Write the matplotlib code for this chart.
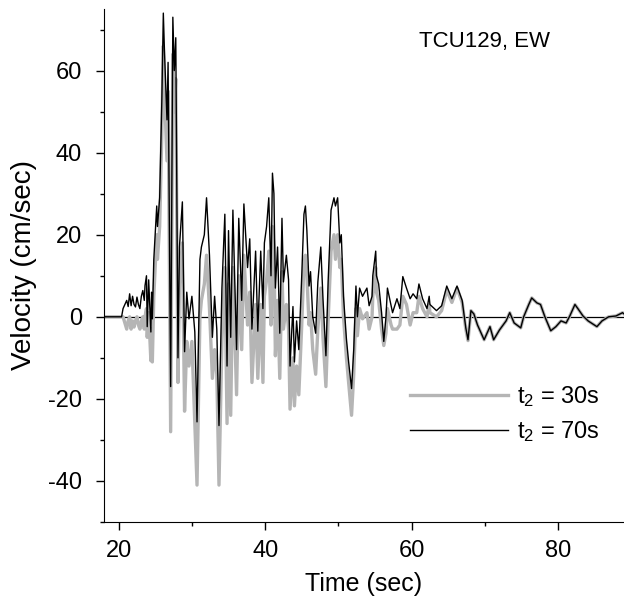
import matplotlib
matplotlib.use("Agg")
import matplotlib.pyplot as plt
from matplotlib.ticker import MultipleLocator

# time samples (sec)
t = [18.0, 20.0, 20.4, 20.6, 21.1, 21.3, 21.5, 21.7, 21.9, 22.1, 22.3, 22.5, 22.7, 22.9,
     23.1, 23.3, 23.5, 23.6, 23.8, 23.9, 24.1, 24.4, 24.5, 24.6, 24.8, 25.2, 25.3, 25.6,
     25.9, 26.1, 26.25, 26.6, 26.75, 27.1, 27.4, 27.6, 27.8, 28.1, 28.3, 28.7, 29.0, 29.3,
     29.6, 30.0, 30.4, 30.7, 31.1, 31.3, 31.7, 32.0, 32.4, 32.8, 33.1, 33.4, 33.7, 34.1,
     34.5, 34.8, 35.0, 35.3, 35.6, 36.1, 36.4, 36.8, 37.1, 37.6, 37.9, 38.2, 38.7, 39.0,
     39.4, 39.7, 39.9, 40.2, 40.5, 40.8, 41.0, 41.2, 41.4, 41.7, 42.0, 42.3, 42.5, 42.9,
     43.2, 43.4, 43.8, 44.0, 44.3, 44.6, 45.0, 45.3, 45.5, 45.7, 46.0, 46.2, 46.5, 46.9,
     47.2, 47.6, 47.9, 48.3, 48.6, 49.0, 49.4, 49.6, 49.9, 50.2, 50.4, 50.7, 51.1, 51.4,
     51.8, 52.1, 52.4, 52.6, 52.9, 53.3, 53.9, 54.2, 54.6, 54.7, 55.1, 55.2, 55.5, 55.9,
     56.2, 56.5, 56.7, 57.2, 57.4, 58.0, 58.4, 58.8, 59.3, 59.8, 60.2, 60.7, 61.0, 61.5,
     62.1, 62.4, 62.5, 63.4, 64.1, 64.8, 65.5, 66.2, 66.9, 67.4, 67.7, 68.1, 68.5, 69.0,
     69.9, 70.7, 71.2, 72.0, 72.9, 73.4, 74.0, 74.9, 75.3, 76.0, 76.4, 77.1, 77.6, 78.2,
     79.0, 79.7, 80.4, 81.1, 81.6, 82.3, 82.7, 83.4, 84.1, 85.3, 86.0, 86.9, 87.9, 88.8, 89.5]

# velocity (cm/sec), t2 = 70s
vel_70 = [0, 0, 0, 2, 4, 2.5, 5.6, 2.7, 5, 3, 2.4, 4.8, 3, 2,
          5, 6.4, 4, 7.6, 10, -2.4, 9, -3.7, 6, -0.5, 14, 27, 22, 29,
          53, 74, 65, 48, 62, -17, 73, 60, 68, -10, 17, 28, -8.5, 6,
          -0.5, 5, -3.7, -25.6, 14, 17, 20, 29, 15, -5, 5, -3, -26.5, 7,
          25, -12, 21, -5, 26, -8, 24, 4, 27.5, 12, 19, -3, 16, -3.5,
          16, 2, 18, 22, 29, 10, 35, 30, 7, 17, -4, 24, 8.5, 15,
          9, -12, 2.5, -11, -1, -8, 10, 25, 27, 21, 7.5, 11, 0, -4,
          8.5, 17, 4.4, -9.5, 8.5, 26, 29, 27, 29, 18, 20, 5, -5.4, -11,
          -17.5, -8, 7.5, 0, 7, 5, 7, 2.7, 5, 10, 16, 10, 8, 1,
          -6, 0, 7, 2.7, 1, 4.4, 2, 9.8, 7, 4.4, 5.6, 4.4, 8, 4.4,
          2, 5, 3, 1.5, 2.7, 7.5, 4.4, 7.5, 4, -2.7, -5.6, 1.5, 0.7, -2,
          -5.6, -2.4, -5.6, -3.2, -1, 1, -1.5, -2.7, 0, 3, 4.6, 3.4, 3, 0,
          -3.4, -2.4, -1, -1.5, 0.2, 3, 2, 0.2, -1, -2.4, -1, 0, 0.2, 1, 0]

# velocity (cm/sec), t2 = 30s
vel_30 = [0, 0, 0, 0, -3, -1, 0, -3, -1, -2.5, -1, 0, -2, -3,
          -1, 0, -3, 0, 2, -5, 1, -10.7, -3, -11, 5, 20, 14, 22,
          45, 66, 55, 38, 55, -28, 64, 50, 58, -16, 8, 18, -23, -6,
          -12, -6, -25.6, -41, 0, 4, 8, 15, 2, -15, -8, -14, -41, -6,
          12, -26, 8, -24, 12, -19, 10, -8, 15, -2, 6, -16, 3, -15,
          3, -16, 5, 9, 16, -2, 22, 17, -9.5, 4, -15, 11, -3, 3,
          -3, -22.5, -10, -21.7, -12, -19, -2, 13, 15, 10, -2, 1, -8, -14,
          -3, 7, -5, -17, -1, 16, 20, 14, 20, 12, 14, 0, -10, -16,
          -24, -14, 2, -4.6, 2, -0.5, 1, -3, 0, 5, 12, 6, 4, -3,
          -7, -4, 2, -2, -3, -3, -2, 5, 3, -2, 1, 1, 5, 2,
          0, 3, 1, 0, 1.5, 6.5, 3.5, 7, 3.5, -3, -5.8, 1.5, 0.7, -2,
          -5.6, -2.4, -5.6, -3.2, -1, 1, -1.5, -2.7, 0, 3, 4.6, 3.4, 3, 0,
          -3.4, -2.4, -1, -1.5, 0.2, 3, 2, 0.2, -1, -2.4, -1, 0, 0.2, 1, 0]

plt.rcParams['font.family'] = ['Liberation Sans', 'DejaVu Sans']
plt.rcParams['axes.unicode_minus'] = False

fig = plt.figure(figsize=(6.24, 6.02), dpi=100)
ax = fig.add_axes([104 / 624, 1 - 522 / 602, 520 / 624, 513 / 602])

ax.axhline(0, color='black', linewidth=0.9, zorder=1)
ax.plot(t, vel_30, color='#b5b5b5', linewidth=2.4, label=r'$\mathregular{t_2}$ = 30s', zorder=2)
ax.plot(t, vel_70, color='black', linewidth=1.0, label=r'$\mathregular{t_2}$ = 70s', zorder=3)

ax.set_xlim(18, 89)
ax.set_ylim(-50, 75)
ax.xaxis.set_major_locator(MultipleLocator(20))
ax.xaxis.set_minor_locator(MultipleLocator(10))
ax.yaxis.set_major_locator(MultipleLocator(20))
ax.yaxis.set_minor_locator(MultipleLocator(10))
ax.spines['top'].set_visible(False)
ax.spines['right'].set_visible(False)
ax.tick_params(which='major', direction='out', length=6, width=1)
ax.tick_params(which='minor', direction='out', length=3, width=1)
ax.tick_params(axis='x', which='major', pad=7, labelsize=17)
ax.tick_params(axis='y', which='major', pad=10, labelsize=17)

ax.set_xlabel("Time (sec)", fontsize=18, labelpad=7)
ax.set_ylabel("Velocity (cm/sec)", fontsize=20, labelpad=8)

ax.text(0.731, 0.936, "TCU129, EW", transform=ax.transAxes, fontsize=16,
        ha='center', va='center')

ax.legend(loc='center left', bbox_to_anchor=(0.588, 0.2105), frameon=False,
          fontsize=17, handlelength=4.15, handletextpad=0.4,
          borderpad=0, borderaxespad=0, labelspacing=0.45)

fig.savefig("out.png", dpi=100)
